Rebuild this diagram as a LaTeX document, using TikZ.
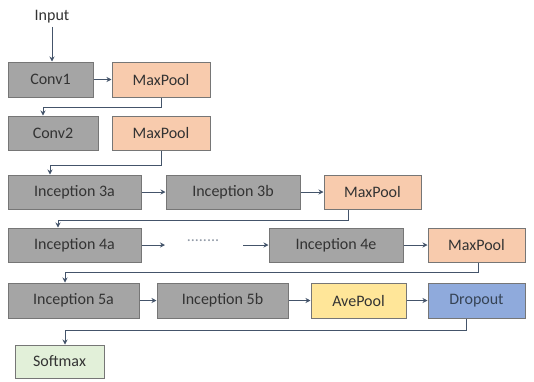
\documentclass[tikz,border=0pt]{standalone}
\usepackage{fontspec}
\setmainfont{Carlito}
\usetikzlibrary{arrows.meta}
\definecolor{gfill}{HTML}{A5A5A5}
\definecolor{gdraw}{HTML}{767676}
\definecolor{ofill}{HTML}{F8CBAD}
\definecolor{yfill}{HTML}{FFE699}
\definecolor{bfill}{HTML}{8FAADC}
\definecolor{sfill}{HTML}{E2F0D9}
\definecolor{lcol}{HTML}{44546A}
\definecolor{tcol}{HTML}{333333}
\tikzset{
  lbl/.style={text=tcol, font=\fontsize{16}{18}\selectfont},
  blk/.style={lbl, draw=gdraw, line width=1pt, inner sep=0pt},
  gray/.style={blk, fill=gfill},
  pool/.style={blk, fill=ofill},
  ave/.style={blk, fill=yfill},
  drop/.style={blk, fill=bfill, text=lcol!80!black},
  soft/.style={blk, fill=sfill},
  conn/.style={draw=lcol, line width=0.9pt, -{Stealth[length=5pt,width=5pt]}},
}
\newcommand{\bx}[6]{\node[#1, minimum width=#4pt-#2pt, minimum height=#5pt-#3pt] (#6) at ({(#2+#4)/2*1pt}, {-(#3+#5)/2*1pt})}
\begin{document}
\begin{tikzpicture}[x=1pt,y=-1pt]
\useasboundingbox (0,0) rectangle (534,381);
\node[lbl] (in) at (52,17) {Input};
\bx{gray}{8}{62}{93}{97}{c1} {Conv1};
\bx{pool}{112}{62}{210}{97}{m1} {MaxPool};
\bx{gray}{8}{116}{98}{150}{c2} {Conv2};
\bx{pool}{112}{116}{210}{150}{m2} {MaxPool};
\bx{gray}{8}{175}{141}{209}{i3a} {Inception 3a};
\bx{gray}{166}{175}{300}{209}{i3b} {Inception 3b};
\bx{pool}{324}{175}{421}{209}{m3} {MaxPool};
\bx{gray}{8}{228}{141}{262}{i4a} {Inception 4a};
\node[text=lcol!60, font=\fontsize{16}{18}\selectfont] (dots) at (203,241) {........};
\bx{gray}{269}{228}{403}{262}{i4e} {Inception 4e};
\bx{pool}{428}{228}{525}{262}{m4} {MaxPool};
\bx{gray}{8}{283}{139}{318}{i5a} {Inception 5a};
\bx{gray}{157}{283}{288}{318}{i5b} {Inception 5b};
\bx{ave}{311}{283}{406}{318}{ap} {AvePool};
\bx{drop}{428}{283}{525}{318}{dp} {Dropout};
\bx{soft}{15}{345}{104}{378}{sm} {Softmax};

\draw[conn] (in.south) -- (in.south |- c1.north);
\draw[conn] (c1) -- (m1);
\draw[conn] (m1.south) -- ++(0,10) -| (43,0 |- c2.north);
\draw[conn] (m2.south) -- ++(0,15) -| (50,0 |- i3a.north);
\draw[conn] (i3a) -- (i3b);
\draw[conn] (i3b) -- (m3);
\draw[conn] (m3.south -| 348,0) -- ++(0,11) -| (58,0 |- i4a.north);
\coordinate (d1) at (165,245);
\coordinate (d2) at (243,245);
\draw[conn] (i4a.east |- d1) -- (d1);
\draw[conn] (d2) -- (i4e.west |- d2);
\draw[conn] (i4e) -- (m4);
\draw[conn] (m4.south -| 478,0) -- ++(0,10) -| (65,0 |- i5a.north);
\draw[conn] (i5a) -- (i5b);
\draw[conn] (i5b) -- (ap);
\draw[conn] (ap) -- (dp);
\draw[conn] (dp.south -| 466,0) -- ++(0,12) -| (65,0 |- sm.north);
\end{tikzpicture}
\end{document}
